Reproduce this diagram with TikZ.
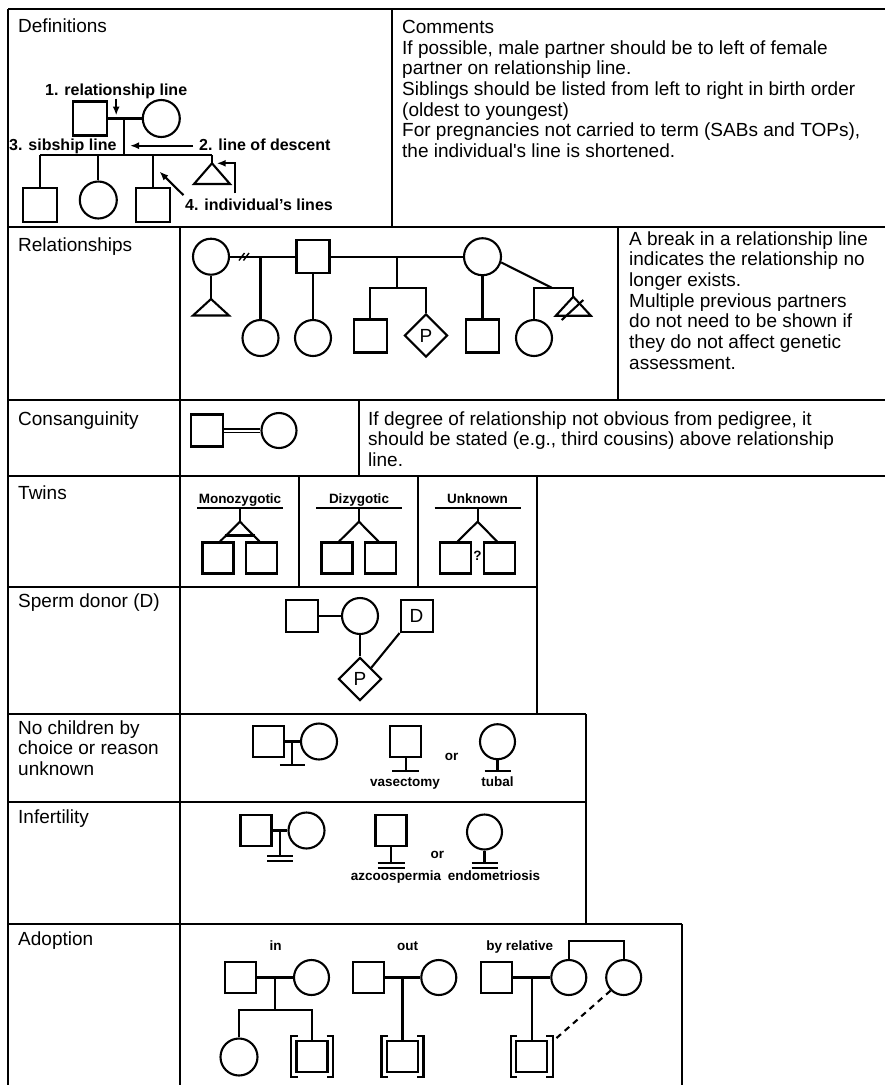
\documentclass[tikz,border=0pt]{standalone}
\usepackage{fontspec}
\setmainfont{Liberation Sans}
\usetikzlibrary{arrows.meta,calc,positioning,shapes.geometric}

\begin{document}
\begin{tikzpicture}[x=1pt,y=-1pt,>={Latex[length=9pt,width=7pt]},
  grid/.style={line width=1.3pt},
  ped/.style={line width=2.1pt},
  male/.style={draw,ped,rectangle,minimum size=32pt,inner sep=0pt,font=\fontsize{19}{20.7}\selectfont},
  female/.style={draw,ped,circle,minimum size=36pt,inner sep=0pt},
  preg/.style={draw,ped,diamond,minimum size=43pt,inner sep=0pt,font=\fontsize{19}{20.7}\selectfont},
  body/.style={anchor=base west,align=left,inner sep=0pt,font=\fontsize{19}{20.7}\selectfont},
  tag/.style={anchor=base,inner sep=0pt,font=\bfseries\fontsize{13.5}{15}\selectfont},
  callout/.style={anchor=base west,inner sep=0pt,font=\bfseries\fontsize{16}{18}\selectfont}]
\fill[white] (0,0) rectangle (885,1085);
\useasboundingbox (0,0) rectangle (885,1085);

% table rules
\foreach \y/\r in {9/885,227/885,400/885,476/885,587/537,714/586,802/586,924/682}
  \draw[grid] (8,\y) -- (\r,\y);
\foreach \x/\a/\b in {8/9/1085,392/9/227,180/227/1085,618/227/400,359/400/476,
  299/476/587,418/476/587,537/476/714,586/714/924,682/924/1085}
  \draw[grid] (\x,\a) -- (\x,\b);

% row labels and comments (base = last line)
\node[body] (hd_def) at (18,32.7) {Definitions};
\node[body] (hd_com) at (402,157.5) {Comments\\If possible, male partner should be to left of female\\partner on relationship line.\\Siblings should be listed from left to right in birth order\\(oldest to youngest)\\For pregnancies not carried to term (SABs and TOPs),\\the individual\textquotesingle s line is shortened.};
\node[body] (lb_rel) at (18,251.7) {Relationships};
\node[body] (tx_rel) at (629,369.2) {A break in a relationship line\\indicates the relationship no\\longer exists.\\Multiple previous partners\\do not need to be shown if\\they do not affect genetic\\assessment.};
\node[body] (lb_con) at (18,425) {Consanguinity};
\node[body] (tx_con) at (368,466.4) {If degree of relationship not obvious from pedigree, it\\should be stated (e.g., third cousins) above relationship\\line.};
\node[body] (lb_twn) at (18,499.5) {Twins};
\node[body] (lb_spd) at (18,607) {Sperm donor (D)};
\node[body] (lb_nch) at (18,775.4) {No children by\\choice or reason\\unknown};
\node[body] (lb_inf) at (18,823) {Infertility};
\node[body] (lb_adp) at (18,945) {Adoption};

% definitions
\node[male,minimum size=34pt] (d_m) at (90,118.5) {};
\node[female,minimum size=37pt] (d_f) at (161.3,118.5) {};
\draw[ped] (d_m) -- (d_f);
\coordinate (d_rl) at (124,118.5);
\coordinate (d_sb) at (124,155.3);
\draw[ped] (d_rl) -- (d_sb);
\coordinate (d_s1) at (40,155.3);
\coordinate (d_s4) at (212,155.3);
\draw[ped] (d_s1) -- (d_s4);
\node[male,minimum size=34pt] (d_c1) at (40,205) {};
\node[female,minimum size=37pt] (d_c2) at (98.3,200) {};
\node[male,minimum size=34pt] (d_c3) at (152.7,205) {};
\coordinate (d_c4) at (212,163.3);
\draw[ped] (d_s1) -- (d_c1);
\draw[ped] (d_c2 |- d_s1) -- (d_c2);
\draw[ped] (d_c3 |- d_s1) -- (d_c3);
\draw[ped] (d_s4) -- (d_c4);
\draw[ped] (d_c4) -- ++(-18,20.7) -- ++(36,0) -- cycle;
\node[callout] (d_l1) at (45,95) {1. relationship line};
\draw[->,ped] (d_l1.south) -- ($(d_l1.south |- d_rl)+(0,-3)$);
\node[callout] (d_l3) at (9,150) {3. sibship line};
\node[callout] (d_l2) at (199,150) {2. line of descent};
\coordinate (d_a2) at (130,145.7);
\draw[->,ped] ($(d_l2.west |- d_a2)+(-6,0)$) -- (d_a2);
\node[callout] (d_l4) at (185,210) {4. individual’s lines};
\coordinate (d_a4) at (159.5,171.5);
\draw[->,ped] ($(d_l4.north west)+(-1.5,-3)$) -- (d_a4);
\draw[->,ped] ($(d_c4)+(23,30)$) |- ($(d_c4)+(4.7,0)$);

% relationships
\node[female] (r_f1) at (211,256.7) {};
\coordinate (r_t1) at (211,299);
\draw[ped] (r_f1) -- (r_t1);
\draw[ped] (r_t1) -- ++(-18,16.5) -- ++(36,0) -- cycle;
\node[male,minimum size=33pt] (r_m) at (313,256.7) {};
\draw[ped] (r_f1) -- (r_m);
\draw[line width=1.4pt] (239,260.5) -- ++(5.5,-7.5) (243.5,260.5) -- ++(5.5,-7.5);
\coordinate (r_d1) at (260.5,256.7);
\node[female] (r_c1) at (260.5,338) {};
\draw[ped] (r_d1) -- (r_c1);
\node[female] (r_c2) at (313,338) {};
\draw[ped] (r_m) -- (r_c2);
\node[female,minimum size=37pt] (r_f2) at (482.5,256.7) {};
\draw[ped] (r_m) -- (r_f2);
\coordinate (r_d2) at (397.3,256.7);
\coordinate (r_s2) at (397.3,287.7);
\draw[ped] (r_d2) -- (r_s2);
\node[male,minimum size=33pt] (r_c3) at (370.3,336) {};
\node[preg] (r_c4) at (426,335.5) {P};
\draw[ped] (r_c3.north) -- (r_c3.north |- r_s2) -- (r_c4.north |- r_s2) -- (r_c4.north);
\node[male,minimum size=33pt] (r_c5) at (482.5,336) {};
\draw[ped] (r_f2) -- (r_c5);
\coordinate (r_j) at (551.7,287.7);
\draw[ped] (r_f2.-17) -- (r_j);
\node[female] (r_c6) at (534,338) {};
\coordinate (r_t2) at (573.3,296.7);
\draw[ped] (r_c6.north) -- (r_c6.north |- r_j) -- (r_t2 |- r_j) -- (r_t2);
\draw[ped] (r_t2) -- ++(-17.5,19) -- ++(35,0) -- cycle;
\draw[ped] ($(r_t2)+(-11.6,23.3)$) -- ($(r_t2)+(10,3.3)$);

% consanguinity
\node[male] (c_m) at (207,430.5) {};
\node[female,minimum size=35pt] (c_f) at (279,430.5) {};
\draw[line width=1.3pt,double distance=2pt] (c_m) -- (c_f);

% twins
\foreach \n/\x/\t in {mz/240/Monozygotic,dz/359/Dizygotic,uz/477.6/Unknown} {
  \node[tag] (\n_lb) at (\x,503) {\t};
  \coordinate (\n_top) at (\x,508.3);
  \coordinate (\n_ap) at (\x,521.7);
  \draw[ped] ($(\n_top)+(-43,0)$) -- ($(\n_top)+(43,0)$);
  \draw[ped] (\n_top) -- (\n_ap);
  \node[male,minimum size=31pt] (\n_a) at (\x-22,558) {};
  \node[male,minimum size=31pt] (\n_b) at (\x+21.5,558) {};
  \draw[ped] ($(\n_a.north)+(2,0)$) -- (\n_ap) -- ($(\n_b.north)+(-2,0)$);
}
\draw[ped] ($(mz_ap)!0.7!(mz_a.north)$) -- ($(mz_ap)!0.7!(mz_b.north)$);
\node[tag,anchor=center] (uz_q) at (477.6,556) {?};

% sperm donor
\node[male] (s_m) at (302,616) {};
\node[female] (s_f) at (360,616) {};
\node[male] (s_d) at (416.6,616) {D};
\node[preg] (s_p) at (360,679) {P};
\draw[ped] (s_m) -- (s_f);
\draw[ped] (s_f) -- (s_p);
\draw[ped] (s_d.south west) -- (s_p.45);

% no children
\node[male,minimum size=31pt] (n_m) at (268.3,741.5) {};
\node[female] (n_f) at (319,741.5) {};
\draw[ped] (n_m) -- (n_f);
\coordinate (n_j) at ($(n_m.east)!0.5!(n_f.west)$);
\coordinate (n_b) at ($(n_j)+(0,23.5)$);
\draw[ped] (n_j) -- (n_b);
\draw[ped] ($(n_b)+(-12.5,0)$) -- ($(n_b)+(12.5,0)$);
\node[male,minimum size=31pt] (n_v) at (405.6,741.5) {};
\coordinate (n_vb) at (405.6,770.7);
\draw[ped] (n_v) -- (n_vb);
\draw[ped] ($(n_vb)+(-13.5,0)$) -- ($(n_vb)+(13.5,0)$);
\node[tag] (n_or) at (451.6,760) {or};
\node[female,minimum size=35pt] (n_t) at (497.5,741.7) {};
\coordinate (n_tb) at (497.5,770.7);
\draw[ped] (n_t) -- (n_tb);
\draw[ped] ($(n_tb)+(-13,0)$) -- ($(n_tb)+(13,0)$);
\node[tag] (n_vl) at (405,786) {vasectomy};
\node[tag] (n_tl) at (497.5,786) {tubal};

% infertility
\node[male,minimum size=31pt] (i_m) at (256,830.5) {};
\node[female] (i_f) at (306.5,830.5) {};
\draw[ped] (i_m) -- (i_f);
\coordinate (i_j) at ($(i_m.east)!0.5!(i_f.west)$);
\coordinate (i_b) at ($(i_j)+(0,25.5)$);
\draw[ped] (i_j) -- (i_b);
\draw[ped] ($(i_b)+(-13,0)$) -- ($(i_b)+(13,0)$);
\draw[ped] ($(i_b)+(-13,5)$) -- ($(i_b)+(13,5)$);
\node[male,minimum size=31pt] (i_a) at (391,830.5) {};
\coordinate (i_ab) at (391,862.7);
\draw[ped] (i_a) -- (i_ab);
\draw[ped] ($(i_ab)+(-13.5,0)$) -- ($(i_ab)+(13.5,0)$);
\draw[ped] ($(i_ab)+(-13.5,5)$) -- ($(i_ab)+(13.5,5)$);
\node[tag] (i_or) at (437.4,858) {or};
\node[female,minimum size=35pt] (i_e) at (484.5,832) {};
\coordinate (i_eb) at (484.5,862.7);
\draw[ped] (i_e) -- (i_eb);
\draw[ped] ($(i_eb)+(-13,0)$) -- ($(i_eb)+(13,0)$);
\draw[ped] ($(i_eb)+(-13,5)$) -- ($(i_eb)+(13,5)$);
\node[tag] (i_al) at (396,880) {azcoospermia};
\node[tag] (i_el) at (494,880) {endometriosis};

% adoption
\node[tag] (a_in) at (275.5,950.7) {in};
\node[tag] (a_out) at (407.6,950.7) {out};
\node[tag] (a_rel) at (519.7,950.7) {by relative};
\node[male,minimum size=31pt] (a_m1) at (240.3,977.5) {};
\node[female,minimum size=35pt] (a_f1) at (311.5,977.5) {};
\draw[ped] (a_m1) -- (a_f1);
\coordinate (a_j1) at ($(a_m1.east)!0.5!(a_f1.west)$);
\coordinate (a_s1) at ($(a_j1)+(0,32.5)$);
\draw[ped] (a_j1) -- (a_s1);
\node[female,minimum size=37pt] (a_c1) at (239,1057) {};
\node[male,minimum size=31pt] (a_c2) at (312,1056.5) {};
\draw[ped] (a_c1.north) |- (a_s1) -| (a_c2.north);
\node[male,minimum size=31pt] (a_m2) at (368.2,977.5) {};
\node[female,minimum size=35pt] (a_f2) at (438.8,977.5) {};
\draw[ped] (a_m2) -- (a_f2);
\coordinate (a_j2) at ($(a_m2.east)!0.5!(a_f2.west)$);
\node[male,minimum size=31pt] (a_c3) at (a_j2 |- a_c2) {};
\draw[ped] (a_j2) -- (a_c3);
\node[male,minimum size=31pt] (a_m3) at (496.3,977.5) {};
\node[female,minimum size=35pt] (a_f3) at (568.8,977.5) {};
\node[female,minimum size=35pt] (a_f4) at (623.7,977.5) {};
\draw[ped] (a_m3) -- (a_f3);
\coordinate (a_j3) at ($(a_m3.east)!0.5!(a_f3.west)$);
\node[male,minimum size=31pt] (a_c4) at (a_j3 |- a_c2) {};
\draw[ped] (a_j3) -- (a_c4);
\draw[ped] (a_f3.north) -- ++(0,-18) -| (a_f4.north);
\draw[ped,dash pattern=on 6pt off 5pt] (a_f4.225) -- ($(a_c4)+(21,-15)$);
\foreach \n in {a_c2,a_c3,a_c4} {
  \draw[ped] ($(\n)+(-14.5,-20.8)$) -- ++(-6.5,0) -- ++(0,41.6) -- ++(6.5,0);
  \draw[ped] ($(\n)+(14.5,-20.8)$) -- ++(6.5,0) -- ++(0,41.6) -- ++(-6.5,0);
}
\end{tikzpicture}
\end{document}
